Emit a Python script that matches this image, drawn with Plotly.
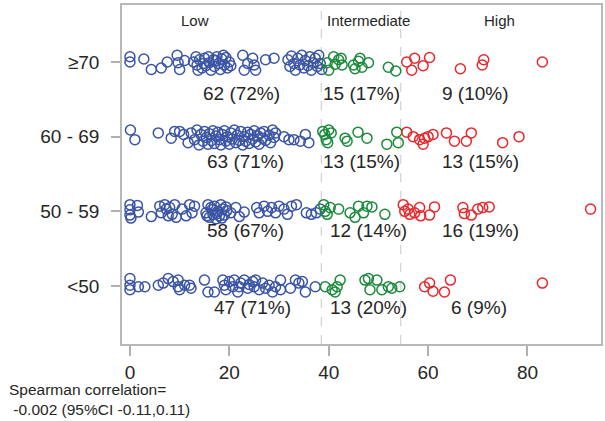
import plotly.graph_objects as go

# ---------------- data ----------------
row_names = ['<50', '50 - 59', '60 - 69', '\u226570']
group_names = ['Low', 'Intermediate', 'High']
cut_points = [38.5, 54.5]

# x values and vertical jitter (hundredths of a category step) per row/group
ge70_low_x = [0.0, 0.0, 2.8, 4.3, 6.3, 7.5, 9.5, 9.7, 10.0, 11.0,
              12.8, 13.3, 13.5, 13.7, 14.0, 14.5, 15.0, 15.3, 15.8, 16.0, 16.3, 16.8, 17.0, 17.5, 17.8,
              18.2, 18.5, 19.0, 19.3, 19.6, 20.0, 20.3, 14.8, 17.3, 18.8,
              22.7, 23.0, 23.7, 24.7, 25.0, 25.3, 27.3, 29.0,
              31.8, 32.2, 32.5, 33.0, 33.3, 33.8, 34.2, 34.6, 35.0, 35.3, 35.8, 36.2, 36.5, 36.9,
              37.3, 37.7, 38.0, 38.3, 38.6]
ge70_low_j = [7, 0, 4, -10, -8, 0, 9, -1, -10, 2,
              0, 7, -4, -11, 3, -8, 5, -5, 7, -1, -11, 3, -6, 7, -2, -10, 4, -4, 6, -8, 0, -5, -2, 2, 9,
              9, -11, -2, 5, -4, -11, 3, 5,
              3, -6, 8, -2, -11, 5, -4, 9, -8, 2, -5, 7, -11, -1, 5, -6, 9, -2, -10]
ge70_int_x = [39.7, 40.0, 41.0, 41.3, 42.0, 42.7, 42.5, 45.0, 45.3, 46.0, 46.3, 46.7, 48.0, 52.0, 53.5]
ge70_int_j = [-1, -11, 7, -3, 3, -4, 5, -4, -9, 1, 5, -7, -1, -7, -12]
ge70_high_x = [55.7, 56.7, 57.3, 59.0, 60.3, 66.5, 70.9, 71.2, 83.0]
ge70_high_j = [0, -11, 5, -5, 6, -9, -4, 3, 0]

r60_low_x = [0.1, 1.0, 5.7,
             8.3, 9.0, 10.0, 10.8, 11.7, 12.3, 13.0, 13.5, 13.9, 14.3,
             14.7, 15.0, 15.4, 15.7, 16.0, 16.4, 16.7, 17.0, 17.3, 17.7,
             18.0, 18.3, 18.6, 19.0, 19.3, 19.6, 20.0, 20.3, 20.6, 21.0,
             21.3, 21.6, 22.0, 22.3, 22.7, 23.0, 23.3, 23.7, 24.0, 24.3,
             24.7, 25.0, 25.3, 25.7, 26.0, 26.3, 26.7, 27.0, 27.3, 28.0,
             28.3, 28.7, 29.0, 29.3,
             31.0, 32.0, 33.0, 34.3, 35.3, 36.0]
r60_low_j = [9, -4, 5,
             -2, 7, 7, 3, -8, 5, -4, 9, -11, 3,
             -6, 7, -1, -10, 4, -5, 8, -9, 1, 6,
             -4, -11, 3, 8, -6, 0, -10, 5, -3, 9,
             -8, 2, -5, 7, -11, 0, -6, 6, -9, 3,
             -3, 8, -7, 1, -10, 5, -2, 7, -5, 2,
             -8, 9, -1, 5,
             0, -4, -4, -6, 3, -8]
r60_int_x = [38.8, 39.2, 39.5, 40.0, 39.8, 40.5, 43.3, 43.7, 45.9, 47.7, 51.7, 53.7, 54.0]
r60_int_j = [7, 3, -4, 9, -8, 5, -2, -6, 6, -2, -10, 6, -8]
r60_high_x = [55.7, 57.0, 58.3, 59.0, 59.3, 60.0, 61.0, 63.7, 65.3, 67.7, 68.7, 75.0, 78.3]
r60_high_j = [6, 0, -4, -10, -2, 0, 3, 5, -6, -6, 5, -8, 0]

r50_low_x = [0.0, 0.0, 0.0, 0.2, 1.5, 1.7, 4.3,
             6.0, 6.3, 7.0, 7.3, 7.7, 8.0, 8.5, 9.0, 9.3,
             10.5, 11.3, 12.0, 12.5, 13.0,
             15.3, 15.7, 16.0, 16.3, 16.7, 17.0, 17.3, 17.7, 18.0, 18.3, 18.7, 19.0, 19.3,
             15.5, 16.5, 17.5, 18.5, 19.5,
             20.3, 21.3, 22.0, 23.0,
             25.5, 26.0, 27.0, 27.7, 28.5, 29.3, 30.0, 31.0, 31.7, 32.5, 33.5,
             35.5, 36.5, 37.5, 38.3]
r50_low_j = [9, 2, -5, -9, 8, -1, -7,
             7, -2, 9, 3, -6, 5, -4, 9, -8,
             3, -6, 9, -2, 7,
             -2, 9, -8, 5, -4, 7, -10, 0, -6, 9, 3, -5, 6,
             -6, 2, -3, -9, 1,
             -2, 5, -7, -1,
             5, -2, 7, 0, 5, -2, 7, 3, -4, 7, 9,
             -2, -4, -2, 3]
r50_int_x = [39.0, 39.3, 39.7, 40.3, 42.0, 44.3, 45.3, 46.0, 47.0, 47.7, 48.7, 51.3]
r50_int_j = [9, 0, -4, 5, 3, -2, -8, 7, -2, 7, 6, -4]
r50_high_x = [55.0, 55.3, 56.0, 56.3, 57.3, 58.3, 58.5, 60.3, 61.3, 67.0, 67.3, 68.7, 70.0, 71.0, 72.3, 92.7]
r50_high_j = [9, 0, 3, -4, -2, 5, -6, -5, 6, 5, -3, -5, 3, 5, 6, 3]

lt50_low_x = [0.0, 0.0, 0.0, 1.7, 3.0,
              5.7, 6.7, 7.7, 8.7, 9.7, 9.7, 10.0, 11.0, 12.0, 12.3,
              15.0, 15.7, 17.0,
              18.7, 19.0, 19.3, 20.0, 20.7, 21.0, 21.7, 22.0, 22.3, 23.0, 23.7, 24.0, 24.7, 25.0,
              25.3, 26.0, 26.7, 27.3, 28.0, 28.7, 29.3, 30.3, 30.3,
              32.3, 33.3, 34.0, 34.7, 35.3, 37.3]
lt50_low_j = [10, 1, -5, -1, -1,
              1, 4, 10, 6, 8, -1, -5, 1, 1, -3,
              8, -8, -8,
              8, 1, -5, 6, -1, 8, -8, -1, 4, 8, -3, 2, 6, -1, 8, -5, 4, -3, 1, -8, -1, 8, -5,
              -3, 8, 4, 6, -8, -1]
lt50_int_x = [39.3, 40.7, 41.3, 41.7, 42.3, 47.3, 48.0, 48.3, 49.7, 50.7, 52.0, 52.7, 54.3]
lt50_int_j = [-1, -5, -8, -1, 8, 8, 10, -5, 8, -5, -1, -3, -1]
lt50_high_x = [59.3, 60.3, 61.0, 63.3, 64.5, 83.0]
lt50_high_j = [-1, 4, -7, -8, 8, 4]

count_labels = [
    ['47 (71%)', '13 (20%)', '6 (9%)'],
    ['58 (67%)', '12 (14%)', '16 (19%)'],
    ['63 (71%)', '13 (15%)', '13 (15%)'],
    ['62 (72%)', '15 (17%)', '9 (10%)'],
]
x_ticks = [0, 20, 40, 60, 80]
spearman_text = 'Spearman correlation=<br>\u00a0-0.002 (95%CI -0.11,0.11)'

# ---------------- figure ----------------
BLUE = '#3a54a5'
GREEN = '#1b8a3b'
RED = '#e8282c'
colors = [BLUE, GREEN, RED]
FONT = 'Liberation Sans, Arial, Helvetica, sans-serif'
TXT = '#262626'

rows = [
    [(lt50_low_x, lt50_low_j), (lt50_int_x, lt50_int_j), (lt50_high_x, lt50_high_j)],
    [(r50_low_x, r50_low_j), (r50_int_x, r50_int_j), (r50_high_x, r50_high_j)],
    [(r60_low_x, r60_low_j), (r60_int_x, r60_int_j), (r60_high_x, r60_high_j)],
    [(ge70_low_x, ge70_low_j), (ge70_int_x, ge70_int_j), (ge70_high_x, ge70_high_j)],
]

fig = go.Figure()
for gi in range(3):
    for ri, row in enumerate(rows):
        xs, js = row[gi]
        fig.add_trace(go.Scatter(
            x=xs, y=[ri + j / 100.0 for j in js], mode='markers',
            marker=dict(symbol='circle-open', size=10, color=colors[gi], line=dict(width=1.5)),
            showlegend=False, hoverinfo='skip'))

shapes = [dict(type='line', xref='x', yref='paper', x0=c, x1=c, y0=0, y1=1,
               line=dict(color='#c8c8c8', width=1, dash='dash'), layer='below') for c in cut_points]

annotations = []
label_x = [[24.6, 48.0, 70.2], [23.2, 48.0, 70.6], [23.2, 46.6, 70.6], [22.5, 46.6, 69.6]]
label_y = [-0.289, 0.742, 1.665, 2.58]
for ri in range(4):
    for gi in range(3):
        annotations.append(dict(x=label_x[ri][gi], y=label_y[ri], xref='x', yref='y',
                                text=count_labels[ri][gi], showarrow=False,
                                font=dict(size=19, color=TXT, family=FONT)))
for name, xx in zip(group_names, [13.0, 48.0, 74.3]):
    annotations.append(dict(x=xx, y=3.557, xref='x', yref='y', text=name, showarrow=False,
                            font=dict(size=15, color=TXT, family=FONT)))
annotations.append(dict(x=-0.237, y=-0.164, xref='paper', yref='paper', xanchor='left',
                        yanchor='middle', align='left', text=spearman_text, showarrow=False,
                        borderpad=0, font=dict(size=15.5, color=TXT, family=FONT)))

fig.update_layout(
    width=605, height=421,
    margin=dict(l=122, r=2, t=5, b=77),
    paper_bgcolor='white', plot_bgcolor='white',
    font=dict(family=FONT, color=TXT),
    shapes=shapes, annotations=annotations,
    xaxis=dict(range=[-1.6, 94.8], tickvals=x_ticks, ticks='outside', ticklen=10, tickwidth=1.5,
               tickcolor='#b0b0b0', showline=True, mirror=True, linecolor='#b8b8b8', linewidth=1.5,
               showgrid=False, zeroline=False, tickfont=dict(size=19, color=TXT, family=FONT)),
    yaxis=dict(range=[-0.776, 3.763], tickvals=[0, 1, 2, 3], ticktext=row_names, ticks='outside',
               ticklen=9, tickwidth=1.5, tickcolor='#b0b0b0', showline=True, mirror=True,
               linecolor='#b8b8b8', linewidth=1.5, showgrid=False, zeroline=False,
               tickfont=dict(size=19, color=TXT, family=FONT), ticklabelstandoff=8),
)

fig.write_html('out.html', config={'displayModeBar': False},
               post_script="document.body.style.margin='0px';document.body.style.overflow='hidden';")
